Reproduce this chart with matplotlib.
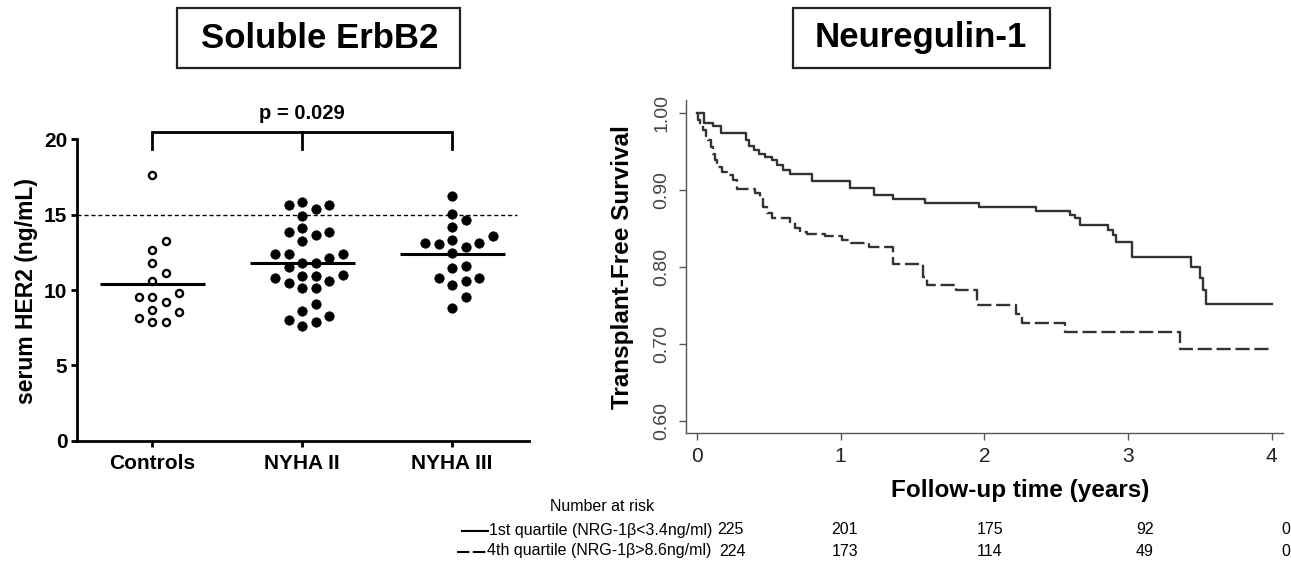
import numpy as np
import matplotlib
matplotlib.use("Agg")
import matplotlib.pyplot as plt
from matplotlib.patches import Rectangle
from matplotlib.lines import Line2D

plt.rcParams['font.family'] = ['Liberation Sans', 'DejaVu Sans']

# ---------------- data ----------------
groups = ["Controls", "NYHA II", "NYHA III"]
controls = [17.63, 13.27, 12.65, 11.81, 11.15, 10.60, 9.82, 9.56, 9.23, 9.56,
            8.67, 8.16, 7.85, 7.85, 8.56]
nyha2 = [15.64, 15.35, 15.86, 15.64, 14.91, 14.14, 13.83, 13.27, 13.65, 13.83,
         12.37, 12.15, 12.37, 12.37, 11.81, 11.55, 11.81, 10.93, 10.82, 10.49,
         11.00, 10.11, 10.11, 10.62, 10.93, 9.05, 8.63, 8.27, 8.01, 7.61, 7.85]
nyha3 = [16.24, 15.04, 14.65, 14.16, 13.60, 13.32, 13.14, 12.88, 13.05, 13.14,
         12.48, 11.44, 11.59, 10.82, 10.62, 10.77, 10.33, 9.51, 8.78]
cutoff = 15.0
p_text = "p = 0.029"
yticks_left = [0, 5, 10, 15, 20]

# Kaplan-Meier steps (time in years, survival after the step)
q1_t = [0.051, 0.113, 0.165, 0.339, 0.365, 0.395, 0.430, 0.470, 0.520, 0.560,
        0.600, 0.645, 0.798, 1.068, 1.232, 1.367, 1.590, 1.963, 2.358, 2.597,
        2.632, 2.665, 2.863, 2.897, 2.920, 3.026, 3.437, 3.505, 3.520, 3.540]
q1_s = [0.987, 0.983, 0.974, 0.965, 0.957, 0.952, 0.947, 0.943, 0.938, 0.932,
        0.926, 0.921, 0.911, 0.902, 0.8925, 0.8875, 0.883, 0.878, 0.872, 0.867,
        0.863, 0.854, 0.848, 0.841, 0.8325, 0.813, 0.799, 0.785, 0.770, 0.752]
q4_t = [0.010, 0.020, 0.044, 0.060, 0.078, 0.095, 0.113, 0.125, 0.136, 0.171,
        0.206, 0.252, 0.276, 0.404, 0.439, 0.462, 0.485, 0.520, 0.647, 0.682,
        0.717, 0.763, 0.890, 1.006, 1.070, 1.200, 1.367, 1.576, 1.600, 1.800,
        1.947, 2.220, 2.260, 2.562, 3.362]
q4_s = [0.990, 0.986, 0.977, 0.970, 0.9645, 0.956, 0.947, 0.938, 0.930, 0.9235,
        0.919, 0.9127, 0.9005, 0.8954, 0.889, 0.878, 0.8695, 0.863, 0.8585, 0.850,
        0.8455, 0.842, 0.840, 0.8347, 0.831, 0.825, 0.8035, 0.787, 0.776, 0.770,
        0.750, 0.738, 0.7264, 0.7156, 0.693]
t_end = 4.0
xticks_right = [0, 1, 2, 3, 4]
yticks_right = [0.60, 0.70, 0.80, 0.90, 1.00]
risk_q1 = [225, 201, 175, 92, 0]
risk_q4 = [224, 173, 114, 49, 0]
label_q1 = "1st quartile (NRG-1\u03b2<3.4ng/ml)"
label_q4 = "4th quartile (NRG-1\u03b2>8.6ng/ml)"

# ---------------- figure ----------------
W, H = 1291, 562
fig = plt.figure(figsize=(W / 100, H / 100), dpi=100)
fig.patch.set_facecolor("white")

def fx(px):
    return px / W

def fy(py):
    return 1 - py / H

# ---------- left panel ----------
L0, L1, T0, B0 = 77, 529.3, 139.3, 440.7
ax1 = fig.add_axes([fx(L0), fy(B0), (L1 - L0) / W, (B0 - T0) / H])
xl = (-0.5, 2.515)
ax1.set_xlim(*xl)
ax1.set_ylim(0, 20)
px_per_x = (L1 - L0) / (xl[1] - xl[0])
px_per_y = (B0 - T0) / 20.0

def swarm(vals, center, step_px=13.5, min_dist=11.5):
    vals = np.asarray(vals, float)
    order = np.argsort(vals, kind="stable")
    placed = []
    xs = np.zeros(len(vals))
    cands = [0.0]
    for k in range(1, 8):
        cands += [k * step_px, -k * step_px]
    for i in order:
        y = vals[i] * px_per_y
        chosen = cands[-1]
        for off in cands:
            if all(np.hypot(off - px, y - py) >= min_dist for px, py in placed):
                chosen = off
                break
        placed.append((chosen, y))
        xs[i] = center + chosen / px_per_x
    return xs

data_groups = [controls, nyha2, nyha3]
for gi, vals in enumerate(data_groups):
    xs = swarm(vals, gi)
    if gi == 0:
        ax1.scatter(xs, vals, s=26, facecolor="white", edgecolor="black",
                    linewidth=1.7, zorder=3, clip_on=False)
    else:
        ax1.scatter(xs, vals, s=46, facecolor="black", edgecolor="black",
                    linewidth=0.5, zorder=3, clip_on=False)
    m = np.mean(vals)
    ax1.plot([gi - 0.35, gi + 0.35], [m, m], color="black", lw=2.2,
             solid_capstyle="butt", zorder=4)

ax1.plot([-0.5, 2.43], [cutoff, cutoff], color="black", lw=1.0,
         dashes=(3, 2), zorder=2)

# bracket
ax1.plot([0, 0, 2, 2], [19.33, 20.5, 20.5, 19.33], color="black", lw=2.0,
         clip_on=False, solid_joinstyle="miter")
ax1.plot([1, 1], [20.5, 19.33], color="black", lw=2.0, clip_on=False)
ax1.text(1, 21.7, p_text, ha="center", va="center", fontsize=14.5,
         fontweight="bold", clip_on=False)

for s in ["top", "right"]:
    ax1.spines[s].set_visible(False)
for s in ["left", "bottom"]:
    ax1.spines[s].set_linewidth(2.0)
    ax1.spines[s].set_color("black")
ax1.set_yticks(yticks_left)
ax1.set_yticklabels([str(v) for v in yticks_left], fontsize=15, fontweight="bold")
ax1.set_xticks(range(len(groups)))
ax1.set_xticklabels(groups, fontsize=15, fontweight="bold")
ax1.tick_params(axis="y", length=4, width=2.0, pad=3)
ax1.tick_params(axis="x", length=4.5, width=2.0, pad=5)

fig.text(fx(27), fy(291), "serum HER2 (ng/mL)", rotation=90, ha="center",
         va="center", fontsize=16.5, fontweight="bold")

# ---------- right panel ----------
R0, R1, RT, RB = 685.5, 1283.1, 100.4, 433.0
ax2 = fig.add_axes([fx(R0), fy(RB), (R1 - R0) / W, (RB - RT) / H])
ax2.set_xlim(-0.08, 4.08)
ax2.set_ylim(0.584, 1.016)

ax2.step([0] + q1_t + [t_end], [1.0] + q1_s + [q1_s[-1]], where="post",
         color="#333333", lw=1.7)
ax2.step([0] + q4_t + [t_end], [1.0] + q4_s + [q4_s[-1]], where="post",
         color="#333333", lw=1.7, dashes=(6, 2.0))

for s in ["top", "right"]:
    ax2.spines[s].set_visible(False)
for s in ["left", "bottom"]:
    ax2.spines[s].set_linewidth(1.0)
    ax2.spines[s].set_color("#555555")
ax2.set_xticks(xticks_right)
ax2.set_xticklabels([str(v) for v in xticks_right], fontsize=15, color="#222222")
ax2.set_yticks(yticks_right)
ax2.set_yticklabels(["%.2f" % v for v in yticks_right], fontsize=14,
                    color="#444444", rotation=90, va="center")
ax2.tick_params(axis="both", length=5, width=1.0, color="#555555")
ax2.tick_params(axis="y", pad=6)
ax2.tick_params(axis="x", pad=5)

fig.text(fx(623), fy(267), "Transplant-Free Survival", rotation=90,
         ha="center", va="center", fontsize=17.5, fontweight="bold")
fig.text(fx(1020), fy(490), "Follow-up time (years)", ha="center",
         va="center", fontsize=17.5, fontweight="bold")

# ---------- titles ----------
for (x0, x1, y0, y1, txt, cx) in [(177.3, 460, 8.3, 68.3, "Soluble ErbB2", 319.5),
                                  (792.7, 1049.5, 8.3, 68.3, "Neuregulin-1", 921)]:
    fig.add_artist(Rectangle((fx(x0), fy(y1)), (x1 - x0) / W, (y1 - y0) / H,
                             transform=fig.transFigure, fill=False,
                             edgecolor="#222222", lw=1.6))
    fig.text(fx(cx), fy(38), txt, ha="center", va="center", fontsize=25,
             fontweight="bold")

# ---------- number at risk ----------
fig.text(fx(601.7), fy(506.7), "Number at risk", ha="center", va="center",
         fontsize=11.5)
row_y = [530, 551]
fig.add_artist(Line2D([fx(461.7), fx(488.3)], [fy(531), fy(531)],
                      transform=fig.transFigure, color="black", lw=1.5))
fig.add_artist(Line2D([fx(456.7), fx(486)], [fy(552), fy(552)],
                      transform=fig.transFigure, color="black", lw=1.5,
                      dashes=(6, 1.6)))
fig.text(fx(489.3), fy(row_y[0]), label_q1, ha="left", va="center", fontsize=11.5)
fig.text(fx(486.5), fy(row_y[1]), label_q4, ha="left", va="center", fontsize=11.5)
col_x = [None, 845, 990, 1145, 1286]
for j, (a, b) in enumerate(zip(risk_q1, risk_q4)):
    if j == 0:
        fig.text(fx(717), fy(row_y[0]), str(a), ha="left", va="center", fontsize=11.5)
        fig.text(fx(719), fy(row_y[1]), str(b), ha="left", va="center", fontsize=11.5)
    else:
        fig.text(fx(col_x[j]), fy(row_y[0]), str(a), ha="center", va="center", fontsize=11.5)
        fig.text(fx(col_x[j]), fy(row_y[1]), str(b), ha="center", va="center", fontsize=11.5)

fig.savefig("out.png", dpi=100, facecolor="white")
